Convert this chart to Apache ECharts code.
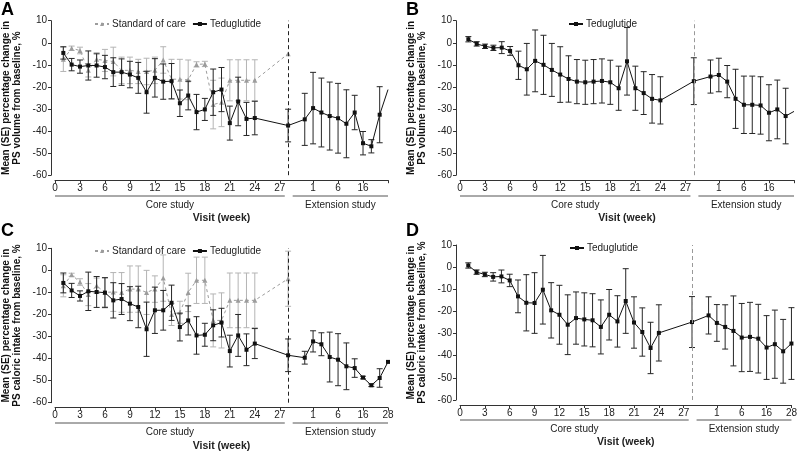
<!DOCTYPE html>
<html>
<head>
<meta charset="utf-8">
<script src="https://cdn.jsdelivr.net/npm/echarts@6/dist/echarts.min.js"></script>
<style>
  html, body { margin: 0; padding: 0; background: #fff; }
  #chart { width: 800px; height: 451px; }
</style>
</head>
<body>
<div id="chart"></div>
<script>
// x positions: core study weeks, then extension visits on their own compressed stretch
const coreWeeks = [1, 2, 3, 4, 5, 6, 7, 8, 9, 10, 11, 12, 13, 14, 15, 16, 17, 18, 19, 20, 21, 22, 23, 24, 28];
const extPositions = [30, 31, 32, 33, 34, 35, 36, 37, 38, 39, 40];
const allX = coreWeeks.concat(extPositions);

const coreTicks = [0, 3, 6, 9, 12, 15, 18, 21, 24, 27];
const extTicks = [31, 34, 37, 40];
const extTickLabels = { 31: '1', 34: '6', 37: '16', 40: '28' };

// A: PS volume, teduglutide (core + extension)
const volTedMean = [-4.6, -9.9, -10.8, -10.3, -10.3, -11, -13.3, -13.3, -14.4, -15.9, -22.4, -15.9, -17.6, -17.4, -27.4, -23.9, -31.4, -30.2, -22.4, -21.2, -36.4, -26.6, -34.5, -34.1, -37.5,
  -34.7, -29.6, -31.6, -33.2, -34.2, -36.7, -31.6, -45.5, -46.9, -32.6, -21.2];
const volTedSE = [2.8, 2.8, 3, 6.6, 5.3, 5.3, 6.5, 6, 6, 7, 9.5, 8.7, 8, 8, 6, 6.5, 8, 5, 10.5, 10, 7.7, 11, 7.5, 7.6, 7.4,
  11.8, 16.2, 15.6, 15.4, 15.8, 15.4, 7.8, 5.3, 3, 12.7, null];
// A: PS volume, standard of care (core only)
const volSocMean = [-7.5, -2.5, -3.5, -12.5, -7.5, -8, -8.5, -12.5, -12.5, -13, -13, -12.5, -7.8, -16.5, -16.5, -16.8, -9.8, -9.6, -28, -27, -17, -17, -17, -17, -5];
const volSocSE = [5.5, 1, 1.5, 3, 3, 5, 6.5, 6, 6, 5.5, 6, 6, 6, 9, 9, 9, 1.2, 1.2, 11, 11, 9.3, 9.3, 9.3, 9.3, 0];

// B: PS volume, teduglutide only
const volTedMeanB = [1.6, -0.5, -1.6, -2.3, -2.2, -3.7, -10.2, -12, -8.2, -10, -12.3, -14.4, -16.4, -17.6, -17.9, -17.6, -17.3, -17.9, -20.6, -8.4, -20.6, -22.8, -25.4, -26.1, -17.4,
  -15.3, -14.6, -17.6, -25.4, -28.1, -28.1, -28.4, -31.7, -30.2, -33.2, -31.1];
const volTedSEB = [1.2, 1, 1, 1.2, 2.7, 2, 6.4, 11.7, 14, 13.4, 12, 12.6, 10.5, 10, 10, 10, 10, 10, 10, 15.3, 10, 9.7, 11, 10.7, 10.6,
  7.5, 7.6, 7.3, 13.4, 13, 13, 13, 12.7, 13.3, 12.6, null];

// C: PS caloric intake, teduglutide
const calTedMean = [-5.7, -9.1, -11.6, -9.5, -9.8, -10.1, -13.6, -13, -15.1, -16.6, -26.7, -18.1, -18.1, -14.7, -25.7, -22.7, -29.5, -29.2, -24.9, -23.7, -36.6, -29.5, -36, -33.2, -38.5,
  -39.6, -32.2, -33.5, -39.3, -40.5, -43.5, -44.3, -48.6, -52.1, -48.8, -41.5];
const calTedSE = [4.5, 3.2, 2.3, 8.7, 7, 6.8, 8, 7, 7.7, 9.4, 12.3, 10.5, 9, 8, 6.3, 6.6, 8.5, 5.2, 7, 6.5, 7.2, 9.5, 7.2, 6.8, 7.4,
  2.9, 4.8, 5.2, 11.3, 11.8, 10.6, 4.2, 0.6, 0.6, 4.2, 0];
// C: PS caloric intake, standard of care
const calSocMean = [-7, -2, -5.3, -11, -7, -10, -9.8, -10, -8.5, -8.5, -10, -8.5, -3.5, -20, -19, -10, -4.5, -4.5, -22.7, -22.7, -13.6, -13.6, -13.6, -13.6, -3.8];
const calSocSE = [5, 0.7, 1.5, 5, 3.5, 6.5, 8.8, 9, 10.5, 10.5, 10, 6, 10.5, 5, 5, 8.7, 10.5, 10.5, 12, 12.5, 12.4, 12.4, 12.4, 12.4, 12.5];

// D: PS caloric intake, teduglutide only
const calTedMeanD = [0.75, -2.25, -3.3, -4.4, -4.2, -6, -13.2, -16.1, -16.2, -10.2, -19.5, -21.5, -26, -23, -23.6, -24, -27, -21.5, -24.5, -15.3, -25, -29.3, -36.5, -29.7, -24.8,
  -21.8, -25.2, -27, -28.8, -31.8, -31.5, -32.3, -36.3, -34.8, -38, -34.5];
const calTedSED = [1.2, 1, 1, 1.9, 2.9, 2.8, 7.4, 12.7, 13.7, 15.5, 12.5, 13.3, 13.5, 11.8, 12, 12, 12.2, 11.4, 11.6, 14.6, 11.6, 10.9, 11.6, 12.7, 11.5,
  8.4, 8.3, 10, 15.8, 15.4, 15.6, 15.5, 14.4, 15.4, 14.4, 16.2];

const FONT = 'Liberation Sans, Arial, Helvetica, sans-serif';
const TED = '#111';
const SOC = '#9c9c9c';

const panels = [
  { letter: 'A', left: 53, top: 20.7, width: 335, height: 154.5, yName: 'Mean (SE) percentage change in\nPS volume from baseline, %',
    ted: [volTedMean, volTedSE], soc: [volSocMean, volSocSE], divider: '#222', showLast: false,
    legendLeft: 89, legendTop: 14, lineY: 196, textY: 205, visitY: 218, letterTop: 1 },
  { letter: 'B', left: 460, top: 20.7, width: 334, height: 154.5, yName: 'Mean (SE) percentage change in\nPS volume from baseline, %',
    ted: [volTedMeanB, volTedSEB], soc: null, divider: '#999', showLast: false,
    legendLeft: 563, legendTop: 14, lineY: 196, textY: 205, visitY: 218, letterTop: 1 },
  { letter: 'C', left: 53, top: 248.3, width: 335, height: 154.4, yName: 'Mean (SE) percentage change in\nPS caloric intake from baseline, %',
    ted: [calTedMean, calTedSE], soc: [calSocMean, calSocSE], divider: '#222', showLast: true,
    legendLeft: 89, legendTop: 241, lineY: 423, textY: 432, visitY: 446, letterTop: 222 },
  { letter: 'D', left: 460, top: 245, width: 334, height: 155, yName: 'Mean (SE) percentage change in\nPS caloric intake from baseline, %',
    ted: [calTedMeanD, calTedSED], soc: null, divider: '#999', showLast: true,
    legendLeft: 564, legendTop: 238, lineY: 420, textY: 429, visitY: 442, letterTop: 222 }
];

function lineData(xs, means, ses) {
  return xs.map((x, i) => {
    const item = { value: [x, means[i]] };
    if (ses[i] == null) item.symbol = 'none';
    return item;
  });
}

function barData(xs, means, ses) {
  return xs
    .map((x, i) => [x, means[i] - ses[i], means[i] + ses[i], ses[i]])
    .filter(d => d[3] != null && d[3] > 0);
}

function errorBars(color) {
  return function (params, api) {
    const x = api.value(0);
    const lo = api.coord([x, api.value(1)]);
    const hi = api.coord([x, api.value(2)]);
    const half = 3;
    const style = { stroke: color, lineWidth: 1 };
    return {
      type: 'group',
      children: [
        { type: 'line', shape: { x1: lo[0], y1: lo[1], x2: hi[0], y2: hi[1] }, style },
        { type: 'line', shape: { x1: lo[0] - half, y1: lo[1], x2: lo[0] + half, y2: lo[1] }, style },
        { type: 'line', shape: { x1: hi[0] - half, y1: hi[1], x2: hi[0] + half, y2: hi[1] }, style }
      ]
    };
  };
}

const grids = [], xAxes = [], yAxes = [], series = [], legends = [], titles = [];

panels.forEach((p, i) => {
  grids.push({ left: p.left, top: p.top, width: p.width, height: p.height });
  const tickVals = coreTicks.concat(extTicks);
  const labelVals = p.showLast ? tickVals : coreTicks.concat(extTicks.slice(0, 3));
  xAxes.push({
    type: 'value', gridIndex: i, min: 0, max: 40, offset: 5,
    axisLine: { show: true, onZero: false, lineStyle: { color: '#333', width: 1 } },
    axisTick: { show: true, customValues: tickVals, length: 3, lineStyle: { color: '#333' } },
    axisLabel: { customValues: labelVals, formatter: v => extTickLabels[v] || String(v),
      fontSize: 10, color: '#222', margin: 3, fontFamily: FONT },
    splitLine: { show: false }
  });
  yAxes.push({
    type: 'value', gridIndex: i, min: -60, max: 10, interval: 10, offset: 4,
    name: p.yName, nameLocation: 'middle', nameGap: 29,
    nameTextStyle: { fontSize: 10, fontWeight: 'bold', lineHeight: 10.5, color: '#111', fontFamily: FONT },
    axisLine: { show: true, onZero: false, lineStyle: { color: '#333', width: 1 } },
    axisTick: { show: true, length: 3, lineStyle: { color: '#333' } },
    axisLabel: { fontSize: 10, color: '#222', margin: 4, fontFamily: FONT },
    splitLine: { show: false }
  });

  if (p.soc) {
    series.push({
      type: 'custom', name: 'soc-se', xAxisIndex: i, yAxisIndex: i, z: 1,
      renderItem: errorBars('#b4b4b4'), encode: { x: 0, y: [1, 2] },
      data: barData(coreWeeks, p.soc[0], p.soc[1]), silent: true
    });
    series.push({
      type: 'line', name: 'Standard of care', xAxisIndex: i, yAxisIndex: i, z: 2,
      data: lineData(coreWeeks, p.soc[0], p.soc[1]),
      symbol: 'triangle', symbolSize: 5,
      itemStyle: { color: SOC },
      lineStyle: { color: SOC, width: 1, type: [3, 3] }
    });
  }
  series.push({
    type: 'custom', name: 'ted-se', xAxisIndex: i, yAxisIndex: i, z: 3,
    renderItem: errorBars('#262626'), encode: { x: 0, y: [1, 2] },
    data: barData(allX, p.ted[0], p.ted[1]), silent: true
  });
  series.push({
    type: 'line', name: 'Teduglutide', xAxisIndex: i, yAxisIndex: i, z: 4,
    data: lineData(allX, p.ted[0], p.ted[1]),
    symbol: 'rect', symbolSize: 4,
    itemStyle: { color: TED },
    lineStyle: { color: TED, width: 1 },
    markLine: {
      silent: true, symbol: 'none', label: { show: false },
      lineStyle: { color: p.divider, type: [4, 3], width: 1 },
      data: [{ xAxis: 28 }]
    }
  });

  legends.push({
    left: p.legendLeft, top: p.legendTop, itemWidth: 14, itemHeight: 5, itemGap: 6,
    data: p.soc ? ['Standard of care', 'Teduglutide'] : ['Teduglutide'],
    textStyle: { fontSize: 10, color: '#222', fontFamily: FONT, padding: [0, 0, 0, -2] },
    selectedMode: false
  });
  titles.push({
    text: p.letter, left: i % 2 === 0 ? 1 : 406, top: p.letterTop, padding: 0,
    textStyle: { fontSize: 18, fontWeight: 'bold', color: '#000', fontFamily: FONT }
  });
});

const chart = echarts.init(document.getElementById('chart'), null, { renderer: 'canvas' });
chart.setOption({
  animation: false,
  backgroundColor: '#fff',
  title: titles,
  legend: legends,
  grid: grids,
  xAxis: xAxes,
  yAxis: yAxes,
  series: series
});

// study-phase brackets and axis title under each panel
const graphics = [];
panels.forEach((p, i) => {
  const px = v => chart.convertToPixel({ xAxisIndex: i }, v);
  const c0 = px(0), c1 = px(27.6), e0 = px(28.55), e1 = px(40);
  const stroke = { stroke: '#555', lineWidth: 1 };
  graphics.push({ type: 'line', shape: { x1: c0, y1: p.lineY, x2: c1, y2: p.lineY }, style: stroke, silent: true });
  graphics.push({ type: 'line', shape: { x1: e0, y1: p.lineY, x2: e1, y2: p.lineY }, style: stroke, silent: true });
  const txt = (x, y, s, bold) => ({
    type: 'text', x: x, y: y, silent: true,
    style: { text: s, fontSize: bold ? 10.5 : 10, fontWeight: bold ? 'bold' : 'normal', fill: '#222',
      align: 'center', verticalAlign: 'middle', fontFamily: FONT }
  });
  graphics.push(txt((c0 + c1) / 2, p.textY, 'Core study', false));
  graphics.push(txt((e0 + e1) / 2, p.textY, 'Extension study', false));
  graphics.push(txt((c0 + e1) / 2, p.visitY, 'Visit (week)', true));
});
chart.setOption({ graphic: graphics });
</script>
</body>
</html>
